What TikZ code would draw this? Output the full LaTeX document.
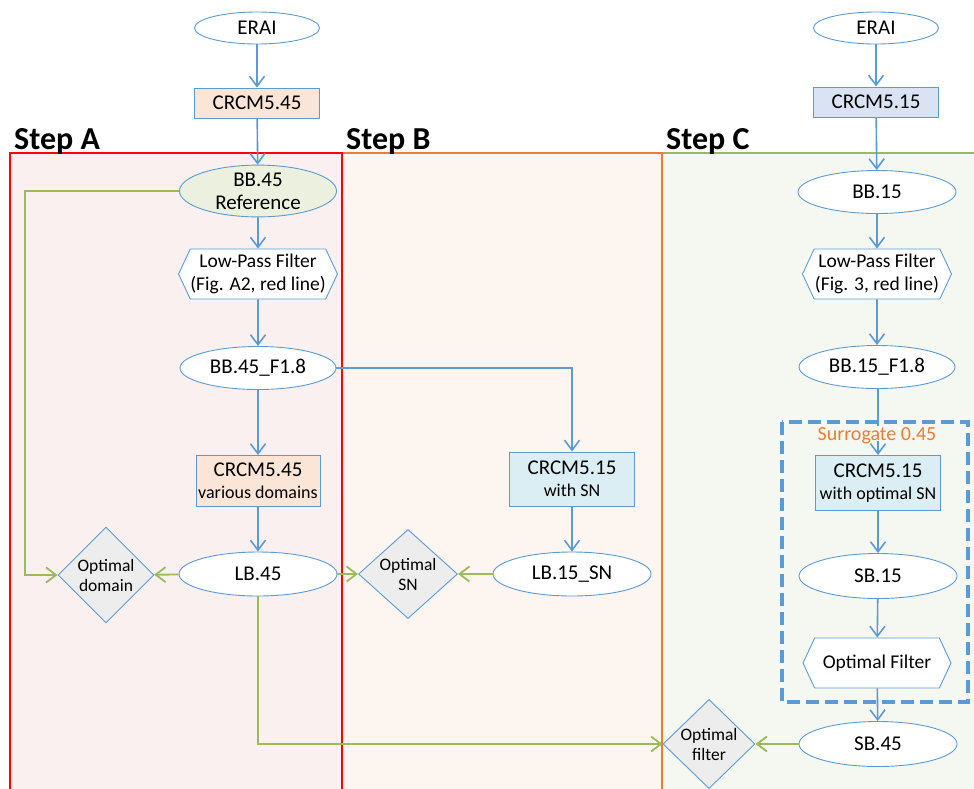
\documentclass[tikz,border=0pt]{standalone}
\usepackage{fontspec}
\setmainfont{Carlito}
\usetikzlibrary{arrows.meta,shapes.geometric,shapes.symbols}
\definecolor{nblue}{HTML}{5B9BD5}
\definecolor{ngreen}{HTML}{9BBB59}
\definecolor{sred}{HTML}{FF0000}
\definecolor{sorange}{HTML}{ED7D31}
\definecolor{fillA}{HTML}{FAF0EF}
\definecolor{fillB}{HTML}{FDF5F0}
\definecolor{fillC}{HTML}{F5F8F1}
\definecolor{peach}{HTML}{FBE5D6}
\definecolor{refgreen}{HTML}{EBF1DE}
\definecolor{lav}{HTML}{DAE3F3}
\definecolor{cyanfill}{HTML}{DAEEF3}
\definecolor{dgray}{HTML}{EDEDED}
\begin{document}
\begin{tikzpicture}[x=1pt,y=-1pt,
  ell/.style={ellipse,draw=nblue,line width=0.9pt,fill=white,inner sep=0pt,
    minimum width=158pt,minimum height=43pt,align=center,font=\fontsize{21}{23}\selectfont},
  boxn/.style={rectangle,draw=nblue,line width=1pt,inner sep=0pt,
    minimum width=125pt,minimum height=30pt,align=center,font=\fontsize{21}{23}\selectfont},
  hexn/.style={signal,signal to=east and west,signal pointer angle=130,draw=nblue,line width=0.9pt,
    fill=white,inner sep=0pt,minimum width=148pt,minimum height=50pt,align=center,
    font=\fontsize{19.5}{23}\selectfont},
  dia/.style={diamond,draw=nblue,line width=0.9pt,fill=dgray,inner sep=0pt,align=center,
    font=\fontsize{17.5}{20}\selectfont},
  steplabel/.style={font=\fontsize{32}{34}\selectfont\bfseries,inner sep=0pt,anchor=base west},
  barrow/.style={draw=nblue,line width=1.6pt,-{Straight Barb[length=10pt,width=15pt,line width=1.6pt]}},
  garrow/.style={draw=ngreen,line width=1.8pt,-{Straight Barb[length=10pt,width=15pt,line width=1.8pt]}}
]
\useasboundingbox (0,0) rectangle (974,788);
\clip (0,0) rectangle (974,788);
% step panels
\draw[draw=ngreen,fill=fillC,line width=1.6pt] (662,153) rectangle (990,800);
\draw[draw=sorange,fill=fillB,line width=1.6pt] (342,153) rectangle (662,800);
\draw[draw=sred,fill=fillA,line width=1.6pt] (10,153) rectangle (342,800);
\node[steplabel] (labA) at (14,149) {Step A};
\node[steplabel] (labB) at (346,149) {Step B};
\node[steplabel] (labC) at (666,149) {Step C};
% dashed surrogate box
\draw[draw=nblue,line width=4pt,dash pattern=on 13pt off 6pt] (782,422) rectangle (968,702);
% left column
\node[ell,minimum width=125pt,minimum height=32pt] (erai1) at (257,28) {ERAI};
\node[boxn,fill=peach] (crcm45) at (257,103) {CRCM5.45};
\node[ell,fill=refgreen,minimum width=157pt] (bbref) at (258,191) {BB.45\\Reference};
\node[hexn] (lpf1) at (258,274) {Low-Pass Filter\\(Fig. A2, red line)};
\node[ell,minimum width=156pt] (bbf1) at (258,368) {BB.45\_F1.8};
\node[boxn,fill=peach,minimum width=124pt,minimum height=51pt] (crcmdom) at (258,481) {CRCM5.45\\[-1pt]{\fontsize{18}{20}\selectfont various domains}};
\node[ell,minimum height=44pt] (lb45) at (258,574) {LB.45};
\node[dia,minimum width=96pt,minimum height=96pt] (optdom) at (106,575) {Optimal\\domain};
% middle column
\node[boxn,fill=cyanfill,minimum height=54pt] (crcmsn) at (572,479) {CRCM5.15\\[-1pt]{\fontsize{18}{20}\selectfont with SN}};
\node[ell,minimum height=44pt] (lbsn) at (572,574) {LB.15\_SN};
\node[dia,minimum width=99pt,minimum height=84pt] (optsn) at (408,574) {Optimal\\SN};
% right column
\node[ell,minimum width=125pt,minimum height=32pt] (erai2) at (876,28) {ERAI};
\node[boxn,fill=lav] (crcm15) at (876,102) {CRCM5.15};
\node[ell] (bb15) at (877,192) {BB.15};
\node[hexn,minimum width=149pt] (lpf2) at (877,274) {Low-Pass Filter\\(Fig. 3, red line)};
\node[ell,minimum width=156pt] (bb15f) at (877,367) {BB.15\_F1.8};
\node[boxn,fill=cyanfill,minimum height=55pt] (crcmopt) at (878,483) {CRCM5.15\\[-1pt]{\fontsize{18}{20}\selectfont with optimal SN}};
\node[ell,minimum height=45pt] (sb15) at (878,576) {SB.15};
\node[hexn] (optfilt) at (877,663) {Optimal Filter};
\node[ell,minimum height=45pt] (sb45) at (878,744) {SB.45};
\node[dia,minimum width=92pt,minimum height=86pt] (optfil) at (709,744) {Optimal\\filter};
% blue connectors
\draw[barrow] (erai1) -- (crcm45);
\draw[barrow] (crcm45) -- (bbref);
\draw[barrow] (bbref) -- (lpf1);
\draw[barrow] (lpf1) -- (bbf1);
\draw[barrow] (bbf1) -- (crcmdom);
\draw[barrow] (crcmdom) -- (lb45);
\draw[barrow] (bbf1.east) -| (crcmsn.north);
\draw[barrow] (crcmsn) -- (lbsn);
\draw[barrow] (erai2) -- (crcm15);
\draw[barrow] (crcm15) -- (bb15);
\draw[barrow] (bb15) -- (lpf2);
\draw[barrow] (lpf2) -- (bb15f);
\draw[barrow] (bb15f.south -| crcmopt.north) -- (crcmopt.north);
\draw[barrow] (crcmopt) -- (sb15);
\draw[barrow] (sb15) -- (optfilt);
\draw[barrow] (optfilt) -- (sb45);
% green connectors
\coordinate (gcorner) at (25,191);
\draw[garrow] (bbref.west) -- (bbref.west -| gcorner) |- (optdom.west);
\draw[garrow] (lb45) -- (optdom);
\draw[garrow] (lb45) -- (optsn);
\draw[garrow] (lbsn) -- (optsn);
\draw[garrow] (lb45.south) |- (optfil.west);
\draw[garrow] (sb45) -- (optfil);
% surrogate label
\node[fill=fillC,inner sep=1pt,text depth=0pt,anchor=base,text=sorange,font=\fontsize{20}{22}\selectfont] (surr) at (877,440) {Surrogate 0.45};
\end{tikzpicture}
\end{document}
